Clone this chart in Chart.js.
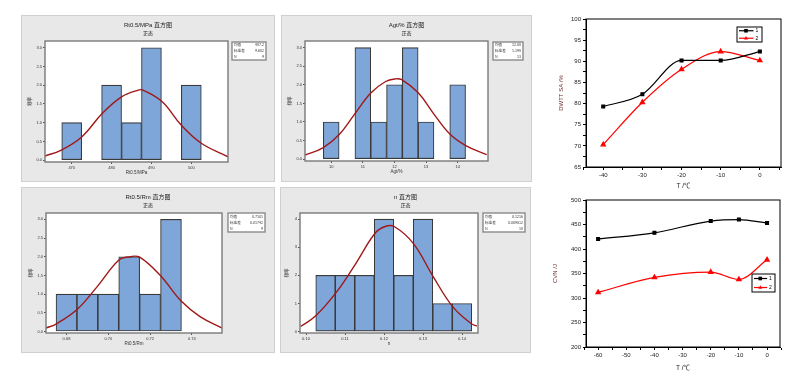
<!DOCTYPE html>
<html><head><meta charset="utf-8">
<script src="https://cdn.jsdelivr.net/npm/chart.js@4.4.1/dist/chart.umd.min.js"></script>
<style>
html,body{margin:0;padding:0;background:#fff;width:800px;height:381px;overflow:hidden}
.box{position:absolute}
.box canvas{position:absolute;left:0;top:0}
</style></head>
<body>
<div class="box" style="left:21px;top:15px;width:254px;height:167px"><canvas id="h1"></canvas></div>
<div class="box" style="left:281px;top:15px;width:251px;height:167px"><canvas id="h2"></canvas></div>
<div class="box" style="left:21px;top:187px;width:254px;height:166px"><canvas id="h3"></canvas></div>
<div class="box" style="left:280px;top:187px;width:251px;height:166px"><canvas id="h4"></canvas></div>
<div class="box" style="left:540px;top:0px;width:260px;height:190px"><canvas id="l1"></canvas></div>
<div class="box" style="left:540px;top:190px;width:260px;height:191px"><canvas id="l2"></canvas></div>
<script>
Chart.defaults.font.family = '"Liberation Sans","Noto Sans CJK SC",sans-serif';
Chart.defaults.color = '#333';

// ---------------- Histogram data ----------------
const subTitle = '正态';
const freqLabel = '频率';
const freqTicks3 = [0, 0.5, 1, 1.5, 2, 2.5, 3];
const freqLabels3 = ['0.0', '0.5', '1.0', '1.5', '2.0', '2.5', '3.0'];
const freqTicks4 = [0, 1, 2, 3, 4];
const freqLabels4 = ['0', '1', '2', '3', '4'];

// Rt0.5/MPa
const rtTitle = 'Rt0.5/MPa 直方图';
const rtAxis = 'Rt0.5/MPa';
const rtBins = [470, 480, 485, 490, 500];
const rtCounts = [1, 2, 1, 3, 2];
const rtCurveX = [463.3, 467.4, 472.5, 477.7, 482.5, 486.7, 487.9, 492.7, 497.5, 502.5, 509.2];
const rtCurveY = [0.11, 0.27, 0.62, 1.25, 1.69, 1.87, 1.87, 1.56, 0.93, 0.45, 0.09];
const rtXTicks = [470, 480, 490, 500];
const rtXLabels = ['470', '480', '490', '500'];
const rtStats = [['均值', '487.2'], ['标准差', '9.602'], ['N', '9']];

// Agt/%
const agTitle = 'Agt/% 直方图';
const agAxis = 'Agt/%';
const agBins = [10, 11, 11.5, 12, 12.5, 13, 14];
const agCounts = [1, 3, 1, 2, 3, 1, 2];
const agCurveX = [9.17, 9.75, 10.26, 10.73, 11.25, 11.72, 12.02, 12.23, 12.76, 13.26, 13.76, 14.27, 14.92];
const agCurveY = [0.11, 0.31, 0.67, 1.2, 1.78, 2.09, 2.16, 2.14, 1.78, 1.2, 0.67, 0.36, 0.12];
const agXTicks = [10, 11, 12, 13, 14];
const agXLabels = ['10', '11', '12', '13', '14'];
const agStats = [['均值', '12.08'], ['标准差', '1.198'], ['N', '13']];

// Rt0.5/Rm
const yrTitle = 'Rt0.5/Rm 直方图';
const yrAxis = 'Rt0.5/Rm';
const yrBins = [0.68, 0.69, 0.70, 0.71, 0.72, 0.73];
const yrCounts = [1, 1, 1, 2, 1, 3];
const yrCurveX = [0.6700, 0.6750, 0.6849, 0.6947, 0.7051, 0.7104, 0.7150, 0.7247, 0.7351, 0.7439, 0.7545];
const yrCurveY = [0.09, 0.2, 0.58, 1.2, 1.91, 2.0, 1.99, 1.51, 0.8, 0.4, 0.09];
const yrXTicks = [0.68, 0.70, 0.72, 0.74];
const yrXLabels = ['0.68', '0.70', '0.72', '0.74'];
const yrStats = [['均值', '0.7101'], ['标准差', '0.01742'], ['N', '9']];

// n
const nTitle = 'n 直方图';
const nAxis = 'n';
const nBins = [0.105, 0.110, 0.115, 0.120, 0.125, 0.130, 0.135, 0.140];
const nCounts = [2, 2, 2, 4, 2, 4, 1, 1];
const nCurveX = [0.0986, 0.1025, 0.1079, 0.1128, 0.1177, 0.1203, 0.1226, 0.1275, 0.1326, 0.1376, 0.1425, 0.1438];
const nCurveY = [0.18, 0.56, 1.42, 2.43, 3.5, 3.74, 3.74, 3.14, 1.96, 0.89, 0.27, 0.2];
const nXTicks = [0.10, 0.11, 0.12, 0.13, 0.14];
const nXLabels = ['0.10', '0.11', '0.12', '0.13', '0.14'];
const nStats = [['均值', '0.1216'], ['标准差', '0.009512'], ['N', '18']];

// ---------------- Line chart data ----------------
const dwttTemps = [-40, -30, -20, -10, 0];
const dwtt1 = [79.3, 82.2, 90.2, 90.2, 92.3];
const dwtt2 = [70.3, 80.3, 88.1, 92.3, 90.2];
const dwttXTicks = [-40, -30, -20, -10, 0];
const dwttXLabels = ['-40', '-30', '-20', '-10', '0'];
const dwttYTicks = [65, 70, 75, 80, 85, 90, 95, 100];
const dwttYLabels = ['65', '70', '75', '80', '85', '90', '95', '100'];

const cvnTemps = [-60, -40, -20, -10, 0];
const cvn1 = [420.5, 433, 457, 460, 453];
const cvn2 = [311.5, 342, 353, 338, 378];
const cvnXTicks = [-60, -50, -40, -30, -20, -10, 0];
const cvnXLabels = ['-60', '-50', '-40', '-30', '-20', '-10', '0'];
const cvnYTicks = [200, 250, 300, 350, 400, 450, 500];
const cvnYLabels = ['200', '250', '300', '350', '400', '450', '500'];

const seriesNames = ['1', '2'];

// ---------------- Histogram builder ----------------
const histDeco = {
  id: 'histDeco',
  beforeDraw(chart, args, o) {
    const {ctx, chartArea: a, width, height} = chart;
    ctx.save();
    ctx.fillStyle = '#e8e8e8';
    ctx.fillRect(0, 0, width, height);
    ctx.strokeStyle = '#cfcfcf'; ctx.lineWidth = 1;
    ctx.strokeRect(0.5, 0.5, width - 1, height - 1);
    ctx.fillStyle = '#ffffff';
    ctx.fillRect(a.left, a.top, a.right - a.left, a.bottom - a.top);
    ctx.restore();
  },
  afterDraw(chart, args, o) {
    const {ctx, chartArea: a, width} = chart;
    ctx.save();
    ctx.strokeStyle = '#7a7a7a'; ctx.lineWidth = 1.4;
    ctx.strokeRect(a.left, a.top, a.right - a.left, a.bottom - a.top);
    ctx.fillStyle = '#222'; ctx.textAlign = 'center'; ctx.textBaseline = 'middle';
    ctx.font = '6px "Liberation Sans","Noto Sans CJK SC",sans-serif';
    ctx.fillText(o.title, width / 2, 10);
    ctx.font = '5px "Noto Sans CJK SC",sans-serif';
    ctx.fillText(o.sub, width / 2, 18);
    const bx = a.right + o.bx, by = a.top + o.by;
    ctx.fillStyle = '#fff';
    ctx.fillRect(bx, by, o.bw, o.bh);
    ctx.strokeStyle = '#8a8a8a'; ctx.lineWidth = 1.4;
    ctx.strokeRect(bx, by, o.bw, o.bh);
    ctx.font = '3.6px "Noto Sans CJK SC",sans-serif';
    ctx.fillStyle = '#333';
    o.stats.forEach((r, i) => {
      const y = by + o.bh * (i + 0.5) / o.stats.length;
      ctx.textAlign = 'left'; ctx.fillText(r[0], bx + 2, y);
      ctx.textAlign = 'right'; ctx.fillText(r[1], bx + o.bw - 2, y);
    });
    ctx.restore();
  }
};

function hist(id, c) {
  return new Chart(document.getElementById(id), {
    type: 'bar',
    data: {
      datasets: [
        { type: 'line', label: 'normal', data: c.cx.map((x, i) => ({x: x, y: c.cy[i]})),
          borderColor: '#a01818', borderWidth: 1.4, pointRadius: 0, tension: 0.4, order: 0 },
        { type: 'bar', label: 'freq', data: c.bx.map((x, i) => ({x: x, y: c.by[i]})),
          backgroundColor: '#7ea6d8', borderColor: '#3a3a3a', borderWidth: 1.1, borderSkipped: false,
          barPercentage: 1, categoryPercentage: 1, order: 1 }
      ]
    },
    options: {
      responsive: true, maintainAspectRatio: false, animation: false,
      layout: {padding: c.pad},
      plugins: {legend: {display: false}, tooltip: {enabled: false},
        histDeco: {title: c.title, sub: subTitle, stats: c.stats, bx: c.box[0], by: c.box[1], bw: c.box[2], bh: c.box[3]}},
      scales: {
        x: {
          type: 'linear', offset: false, min: c.xr[0], max: c.xr[1],
          grid: {display: true, offset: false, drawOnChartArea: false, drawTicks: true, tickLength: 2, color: '#555'},
          border: {display: false},
          afterBuildTicks: s => { s.ticks = c.xt.map(v => ({value: v})); },
          afterFit: s => { s.height = 13; },
          ticks: {font: {size: 4}, color: '#333', padding: 1, maxRotation: 0, autoSkip: false,
            callback: (v, i) => c.xl[i]},
          title: {display: true, text: c.axis, font: {size: 4.5}, color: '#333', padding: 0}
        },
        y: {
          type: 'linear', min: c.yr[0], max: c.yr[1],
          grid: {display: true, drawOnChartArea: false, drawTicks: true, tickLength: 2, color: '#555'},
          border: {display: false},
          afterBuildTicks: s => { s.ticks = c.yt.map(v => ({value: v})); },
          afterFit: s => { s.width = c.yw; },
          ticks: {font: {size: 4}, color: '#333', padding: 1, autoSkip: false,
            callback: (v, i) => c.yl[i]},
          title: {display: true, text: freqLabel, font: {size: 4.5}, color: '#333', padding: 0}
        }
      }
    },
    plugins: [histDeco]
  });
}

hist('h1', {title: rtTitle, axis: rtAxis, bx: rtBins, by: rtCounts, cx: rtCurveX, cy: rtCurveY,
  xt: rtXTicks, xl: rtXLabels, xr: [463.3, 509.2], yt: freqTicks3, yl: freqLabels3, yr: [-0.05, 3.18],
  stats: rtStats, pad: {left: 6, top: 26, right: 47, bottom: 7}, yw: 18, box: [4, 1, 34, 18]});
hist('h2', {title: agTitle, axis: agAxis, bx: agBins, by: agCounts, cx: agCurveX, cy: agCurveY,
  xt: agXTicks, xl: agXLabels, xr: [9.17, 14.96], yt: freqTicks3, yl: freqLabels3, yr: [-0.05, 3.18],
  stats: agStats, pad: {left: 6, top: 26, right: 44, bottom: 8}, yw: 18, box: [5, 1, 30, 18]});
hist('h3', {title: yrTitle, axis: yrAxis, bx: yrBins, by: yrCounts, cx: yrCurveX, cy: yrCurveY,
  xt: yrXTicks, xl: yrXLabels, xr: [0.6702, 0.7544], yt: freqTicks3, yl: freqLabels3, yr: [-0.04, 3.17],
  stats: yrStats, pad: {left: 7, top: 26, right: 53, bottom: 7}, yw: 18, box: [6, 0, 37, 19]});
hist('h4', {title: nTitle, axis: nAxis, bx: nBins, by: nCounts, cx: nCurveX, cy: nCurveY,
  xt: nXTicks, xl: nXLabels, xr: [0.09846, 0.1441], yt: freqTicks4, yl: freqLabels4, yr: [-0.05, 4.22],
  stats: nStats, pad: {left: 4, top: 26, right: 53, bottom: 7}, yw: 16, box: [5, 0, 42, 19]});

// ---------------- Line charts ----------------
function drawMarker(ctx, style, x, y, r, color) {
  ctx.fillStyle = color;
  if (style === 'triangle') {
    ctx.beginPath();
    ctx.moveTo(x, y - r * 1.2); ctx.lineTo(x + r * 1.1, y + r * 0.7); ctx.lineTo(x - r * 1.1, y + r * 0.7);
    ctx.closePath(); ctx.fill();
  } else {
    ctx.fillRect(x - r, y - r, 2 * r, 2 * r);
  }
}

const lineDeco = {
  id: 'lineDeco',
  afterDraw(chart, args, o) {
    const {ctx, chartArea: a} = chart;
    ctx.save();
    ctx.strokeStyle = '#000'; ctx.lineWidth = 1;
    ctx.strokeRect(a.left, a.top, a.right - a.left, a.bottom - a.top);
    const lx = a.right + o.dx, ly = a.top + o.dy;
    ctx.fillStyle = '#fff';
    ctx.fillRect(lx, ly, o.w, o.h);
    ctx.strokeRect(lx, ly, o.w, o.h);
    const ds = chart.data.datasets;
    ds.forEach((d, i) => {
      const y = ly + o.h * (i + 0.5) / ds.length;
      ctx.strokeStyle = d.borderColor; ctx.lineWidth = 1.2;
      ctx.beginPath(); ctx.moveTo(lx + 2, y); ctx.lineTo(lx + o.w * 0.66, y); ctx.stroke();
      drawMarker(ctx, d.pointStyle, lx + o.w * 0.36, y, 1.8, d.borderColor);
      ctx.fillStyle = '#000'; ctx.font = '5px "Liberation Sans",sans-serif';
      ctx.textAlign = 'left'; ctx.textBaseline = 'middle';
      ctx.fillText(d.label, lx + o.w * 0.74, y);
    });
    ctx.restore();
  }
};

function lineChart(id, c) {
  const allX = c.xMinor;
  const allY = c.yMinor;
  return new Chart(document.getElementById(id), {
    type: 'line',
    data: {
      datasets: [
        {label: seriesNames[0], data: c.t.map((x, i) => ({x: x, y: c.s1[i]})), borderColor: '#000000',
          backgroundColor: '#000000', borderWidth: 1.2, pointStyle: 'rect', pointRadius: 2,
          pointBackgroundColor: '#000', cubicInterpolationMode: 'monotone'},
        {label: seriesNames[1], data: c.t.map((x, i) => ({x: x, y: c.s2[i]})), borderColor: '#ff0000',
          backgroundColor: '#ff0000', borderWidth: 1.2, pointStyle: 'triangle', pointRadius: 2.5,
          pointBackgroundColor: '#f00', cubicInterpolationMode: 'monotone'}
      ]
    },
    options: {
      responsive: true, maintainAspectRatio: false, animation: false,
      layout: {padding: c.pad},
      plugins: {legend: {display: false}, tooltip: {enabled: false}, lineDeco: c.leg},
      scales: {
        x: {
          type: 'linear', min: c.xr[0], max: c.xr[1],
          grid: {display: true, drawOnChartArea: false, drawTicks: true, tickLength: 3, color: '#000'},
          border: {display: true, color: '#000'},
          afterBuildTicks: s => { s.ticks = allX.map(v => ({value: v})); },
          afterFit: s => { s.height = c.xh; },
          ticks: {font: {size: 6}, color: '#222', padding: 2, maxRotation: 0, autoSkip: false,
            callback: v => { const k = c.xt.indexOf(v); return k >= 0 ? c.xl[k] : ''; }},
          title: {display: true, text: 'T /℃', font: {size: 6.5}, color: '#222', padding: 0}
        },
        y: {
          type: 'linear', min: c.yr[0], max: c.yr[1],
          grid: {display: true, drawOnChartArea: false, drawTicks: true, tickLength: 3, color: '#000'},
          border: {display: true, color: '#000'},
          afterBuildTicks: s => { s.ticks = allY.map(v => ({value: v})); },
          afterFit: s => { s.width = c.yw; },
          ticks: {font: {size: 6}, color: '#222', padding: 2, autoSkip: false,
            callback: v => { const k = c.yt.indexOf(v); return k >= 0 ? c.yl[k] : ''; }},
          title: {display: true, text: c.ytitle, font: {size: 6}, color: '#6a2a2a', padding: 4}
        }
      }
    },
    plugins: [lineDeco]
  });
}

lineChart('l1', {t: dwttTemps, s1: dwtt1, s2: dwtt2, xt: dwttXTicks, xl: dwttXLabels,
  xMinor: [-45, -40, -35, -30, -25, -20, -15, -10, -5, 0, 5],
  yt: dwttYTicks, yl: dwttYLabels, yMinor: [65, 67.5, 70, 72.5, 75, 77.5, 80, 82.5, 85, 87.5, 90, 92.5, 95, 97.5, 100],
  xr: [-44.4, 5.4], yr: [65, 100], ytitle: 'DWTT SA /%',
  pad: {left: 14, top: 19, right: 19, bottom: 0}, yw: 32, xh: 23,
  leg: {dx: -44, dy: 8, w: 25, h: 15}});

lineChart('l2', {t: cvnTemps, s1: cvn1, s2: cvn2, xt: cvnXTicks, xl: cvnXLabels,
  xMinor: [-65, -60, -55, -50, -45, -40, -35, -30, -25, -20, -15, -10, -5, 0, 5],
  yt: cvnYTicks, yl: cvnYLabels, yMinor: [200, 225, 250, 275, 300, 325, 350, 375, 400, 425, 450, 475, 500],
  xr: [-64.3, 4.6], yr: [200, 500], ytitle: 'CVN /J',
  pad: {left: 8, top: 10, right: 20, bottom: 9}, yw: 38, xh: 25,
  leg: {dx: -28, dy: 74, w: 23, h: 18}});
</script>
</body></html>
